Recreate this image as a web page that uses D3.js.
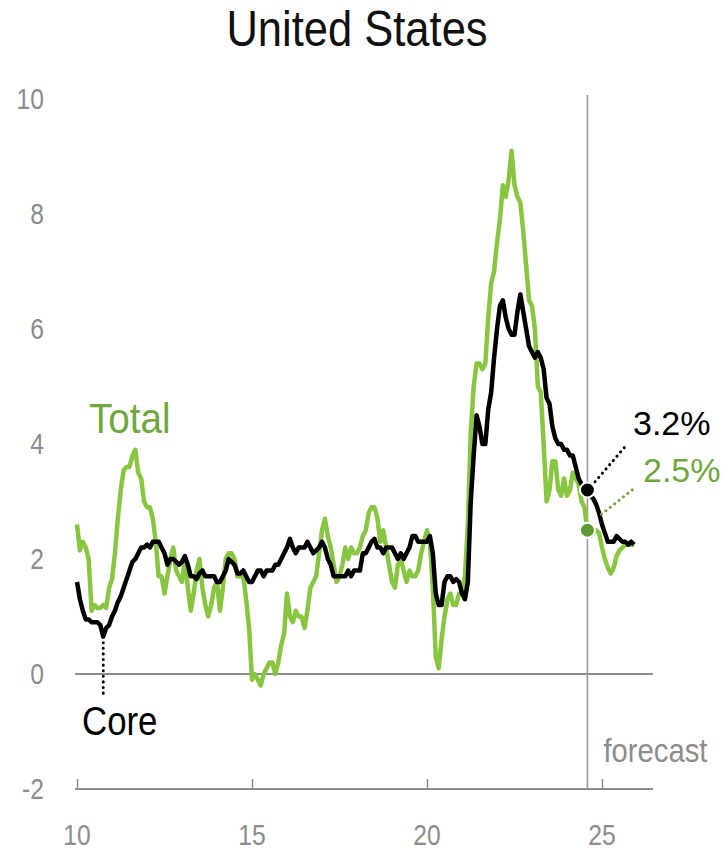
<!DOCTYPE html>
<html><head><meta charset="utf-8">
<script src="https://cdn.jsdelivr.net/npm/d3@7"></script>
<style>
body{margin:0;background:#fff}
svg{display:block}
text{font-family:"Liberation Sans","Arial",sans-serif}
</style>
</head><body>
<svg id="chart" width="724" height="850"></svg>
<script>
// Monthly data, first value = Jan 2010 (x axis in 2-digit years)
const startYear = 10;
const coreValues = [
  1.6,1.3,1.1,0.95,0.95,0.9,0.9,0.9,0.85,0.65,0.8,0.85,
  1.0,1.1,1.25,1.35,1.5,1.65,1.8,1.95,2.0,2.1,2.2,2.2,
  2.25,2.2,2.3,2.3,2.3,2.2,2.1,1.9,2.0,2.0,1.95,1.9,
  1.95,2.05,1.9,1.7,1.7,1.65,1.75,1.8,1.7,1.7,1.7,1.7,
  1.6,1.6,1.7,1.8,2.0,1.95,1.9,1.75,1.75,1.8,1.7,1.6,
  1.6,1.7,1.8,1.8,1.7,1.8,1.8,1.8,1.9,1.9,2.0,2.1,
  2.2,2.35,2.2,2.1,2.2,2.2,2.2,2.3,2.2,2.1,2.15,2.2,
  2.3,2.2,2.0,1.9,1.7,1.7,1.7,1.7,1.7,1.8,1.7,1.8,
  1.8,1.8,2.1,2.1,2.2,2.3,2.35,2.2,2.2,2.1,2.2,2.2,
  2.2,2.1,2.0,2.1,2.0,2.1,2.2,2.4,2.4,2.3,2.3,2.3,
  2.3,2.4,2.1,1.4,1.2,1.2,1.6,1.7,1.7,1.6,1.65,1.6,
  1.4,1.3,1.6,3.0,3.8,4.5,4.3,4.0,4.0,4.6,4.9,5.5,
  6.0,6.4,6.5,6.2,6.0,5.9,5.9,6.3,6.6,6.3,6.0,5.7,
  5.6,5.5,5.6,5.5,5.3,4.8,4.7,4.3,4.1,4.0,4.0,3.9,
  3.9,3.8,3.8,3.6,3.4,3.3,3.2,3.2,3.1,3.05,2.95,2.8,
  2.6,2.45,2.3,2.3,2.3,2.4,2.35,2.3,2.3,2.25,2.3,2.25
];
const totalValues = [
  2.6,2.15,2.3,2.2,2.0,1.1,1.2,1.15,1.15,1.2,1.15,1.5,
  1.65,2.1,2.7,3.2,3.55,3.6,3.6,3.8,3.9,3.5,3.4,3.0,
  2.9,2.9,2.7,2.3,1.7,1.7,1.4,1.7,2.0,2.2,1.8,1.7,
  1.6,2.0,1.5,1.1,1.4,1.8,2.0,1.5,1.2,1.0,1.2,1.5,
  1.6,1.1,1.5,2.0,2.1,2.1,2.0,1.7,1.7,1.7,1.3,0.8,
  -0.1,0.0,-0.1,-0.2,0.0,0.1,0.2,0.2,0.0,0.2,0.5,0.7,
  1.4,1.0,0.9,1.1,1.0,1.0,0.8,1.1,1.5,1.6,1.7,2.1,
  2.5,2.7,2.4,2.2,1.9,1.6,1.7,1.9,2.2,2.0,2.2,2.1,
  2.1,2.2,2.4,2.5,2.8,2.9,2.9,2.7,2.3,2.5,2.2,1.9,
  1.6,1.5,1.9,2.0,1.8,1.6,1.8,1.7,1.7,1.8,2.1,2.3,
  2.5,2.3,1.5,0.3,0.1,0.6,1.0,1.3,1.4,1.2,1.2,1.4,
  1.4,1.7,2.6,4.2,5.0,5.4,5.4,5.3,5.4,6.2,6.8,7.0,
  7.5,7.9,8.5,8.3,8.6,9.1,8.5,8.3,8.2,7.7,7.1,6.5,
  6.4,6.0,5.0,4.9,4.0,3.0,3.2,3.7,3.7,3.2,3.1,3.4,
  3.1,3.2,3.5,3.4,3.3,3.0,2.9,2.5,2.4,2.45,2.5,2.45,
  2.2,2.0,1.85,1.75,1.85,2.05,2.15,2.2,2.25,2.25,2.25,2.25
];
const xTickValues = [10, 15, 20, 25];
const yTickValues = [-2, 0, 2, 4, 6, 8, 10];
const forecastIndex = 175;          // Aug 2024: last actual month
const coreLowIndex = 9;             // Oct 2010 low, where "Core" label points
const titleText = "United States";
const coreName = "Core", totalName = "Total", forecastText = "forecast";

const svg = d3.select("#chart");
const x = d3.scaleLinear().domain([10, 25]).range([77, 602]);
const y = d3.scaleLinear().domain([-2, 10]).range([789, 99]);
const xVal = i => startYear + i / 12;
const axisGray = "#8c8c8c";
const greenLine = "#88c540";
const greenText = "#6ea83c";
const greenDot = "#5f9a33";

// condensed text helper (horizontal squeeze to mimic a condensed face)
function ctext(px, py, str, size, fill, anchor = "start", sx = 0.85, dy = null) {
  const g = svg.append("g").attr("transform", `translate(${px},${py}) scale(${sx},1)`);
  const t = g.append("text").attr("x", 0).attr("y", 0).attr("text-anchor", anchor)
    .attr("font-size", size).attr("fill", fill).text(str);
  if (dy) t.attr("dy", dy);
  return t;
}

// title
ctext(357, 46, titleText, 50, "#111", "middle", 0.87);

// y tick labels
yTickValues.forEach(d => ctext(44, y(d), d, 29, axisGray, "end", 0.85, "0.35em"));

// zero line
svg.append("line").attr("x1", 75).attr("x2", 653).attr("y1", y(0)).attr("y2", y(0))
  .attr("stroke", axisGray).attr("stroke-width", 2);

// x axis at bottom
const xAxis = d3.axisTop(x).tickValues(xTickValues).tickSize(10).tickFormat("");
const gx = svg.append("g").attr("transform", `translate(0,${y(-2)})`).call(xAxis);
gx.select(".domain").remove();
gx.selectAll(".tick line").attr("stroke", axisGray).attr("stroke-width", 1.5);
svg.append("line").attr("x1", 75).attr("x2", 653).attr("y1", y(-2)).attr("y2", y(-2))
  .attr("stroke", axisGray).attr("stroke-width", 2);
xTickValues.forEach(d => ctext(x(d), 845, d, 29, axisGray, "middle", 0.85));

// forecast vertical line
const fx = x(xVal(forecastIndex));
svg.append("line").attr("x1", fx).attr("x2", fx).attr("y1", 95).attr("y2", y(-2))
  .attr("stroke", "#9a9a9a").attr("stroke-width", 1.6);
ctext(fx + 16, 762, forecastText, 34, axisGray, "start", 0.86);

// lines
const line = d3.line().x((d, i) => x(xVal(i))).y(d => y(d)).curve(d3.curveLinear);
svg.append("path").datum(totalValues).attr("d", line).attr("fill", "none")
  .attr("stroke", greenLine).attr("stroke-width", 4.5).attr("stroke-linejoin", "round");
svg.append("path").datum(coreValues).attr("d", line).attr("fill", "none")
  .attr("stroke", "#000").attr("stroke-width", 4.5).attr("stroke-linejoin", "round");

// Core label with dotted leader
const cx0 = x(xVal(coreLowIndex)), cy0 = y(coreValues[coreLowIndex]);
svg.append("line").attr("x1", cx0).attr("x2", cx0).attr("y1", cy0 + 6).attr("y2", cy0 + 58)
  .attr("stroke", "#000").attr("stroke-width", 3).attr("stroke-dasharray", "0.1 5.5")
  .attr("stroke-linecap", "round");
ctext(82, 735, coreName, 40, "#000", "start", 0.87);

// Total label
ctext(89, 433, totalName, 42, greenText, "start", 0.92);

// end-of-actuals dots and labels
const dx = fx;
const coreY = y(coreValues[forecastIndex]);
const totY = y(totalValues[forecastIndex]);
svg.append("line").attr("x1", dx + 4).attr("y1", coreY - 4).attr("x2", dx + 40).attr("y2", coreY - 46)
  .attr("stroke", "#000").attr("stroke-width", 3).attr("stroke-dasharray", "0.1 5.5").attr("stroke-linecap", "round");
svg.append("line").attr("x1", dx + 14).attr("y1", totY - 16).attr("x2", dx + 47).attr("y2", totY - 42)
  .attr("stroke", greenText).attr("stroke-width", 3).attr("stroke-dasharray", "0.1 5.5").attr("stroke-linecap", "round");
svg.append("circle").attr("cx", dx).attr("cy", totY).attr("r", 7.5)
  .attr("fill", greenDot).attr("stroke", "#fff").attr("stroke-width", 2);
svg.append("circle").attr("cx", dx).attr("cy", coreY).attr("r", 7.5)
  .attr("fill", "#000").attr("stroke", "#fff").attr("stroke-width", 2);
ctext(633, 435, coreValues[forecastIndex].toFixed(1) + "%", 34, "#000", "start", 1.0);
ctext(643, 482, totalValues[forecastIndex].toFixed(1) + "%", 34, greenText, "start", 1.0);
</script>
</body></html>
